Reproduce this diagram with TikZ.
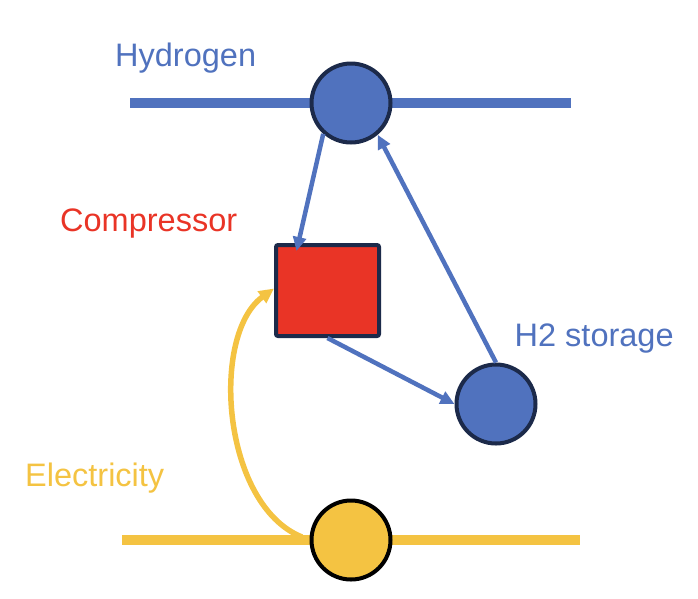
\documentclass[tikz,border=0pt]{standalone}
\usepackage{fontspec}
\setmainfont{Liberation Sans}
\usetikzlibrary{arrows.meta}
\definecolor{hblue}{RGB}{80,114,190}
\definecolor{cred}{RGB}{233,52,38}
\definecolor{eyel}{RGB}{244,195,66}
\definecolor{navy}{RGB}{28,42,74}
\tikzset{
  bus/.style={line width=10.5pt},
  hub/.style={circle, minimum size=79pt, inner sep=0pt, line width=4pt},
  flow/.style={line width=4.5pt, -{Triangle[length=14pt,width=13pt]}},
  lbl/.style={anchor=base west, inner sep=0pt, font=\fontsize{32.5}{38}\selectfont}
}
\begin{document}
\begin{tikzpicture}[x=1pt,y=-1pt]
\useasboundingbox (0,0) rectangle (698,598);
% hydrogen bus
\coordinate (hl) at (130,103);
\coordinate (hr) at (571,103);
\draw[bus, hblue] (hl) -- (hr);
\node[hub, fill=hblue, draw=navy] (h) at (351,103) {};
% electricity bus
\coordinate (el) at (122,540);
\coordinate (er) at (580,540);
\draw[bus, eyel] (el) -- (er);
\node[hub, fill=eyel, draw=black] (e) at (351,540) {};
% compressor
\node[draw=navy, fill=cred, line width=4pt, rounded corners=2pt, minimum width=103pt, minimum height=91pt, inner sep=0pt] (sq) at (327.5,290.5) {};
% storage
\node[hub, fill=hblue, draw=navy] (s) at (496,404) {};
% labels
\node[lbl, text=hblue] (th) at (115,66.5) {Hydrogen};
\node[lbl, text=cred] (tc) at (60,231.5) {Compressor};
\node[lbl, text=hblue] (ts) at (514.5,346.5) {H2 storage};
\node[lbl, text=eyel] (te) at (25,486.5) {Electricity};
% connectors
\draw[flow, hblue] (h.228) -- ([xshift=-31pt,yshift=-8pt]sq.north);
\draw[flow, hblue] (s.north) -- (h.310);
\draw[flow, hblue] (sq.south) -- (s.west);
\coordinate (eb) at (302,537);
\draw[line width=5.5pt, eyel, -{Triangle[length=15pt,width=14pt]}] (eb) .. controls (222,505) and (210,335) .. ([yshift=2pt]sq.west);
\end{tikzpicture}
\end{document}
